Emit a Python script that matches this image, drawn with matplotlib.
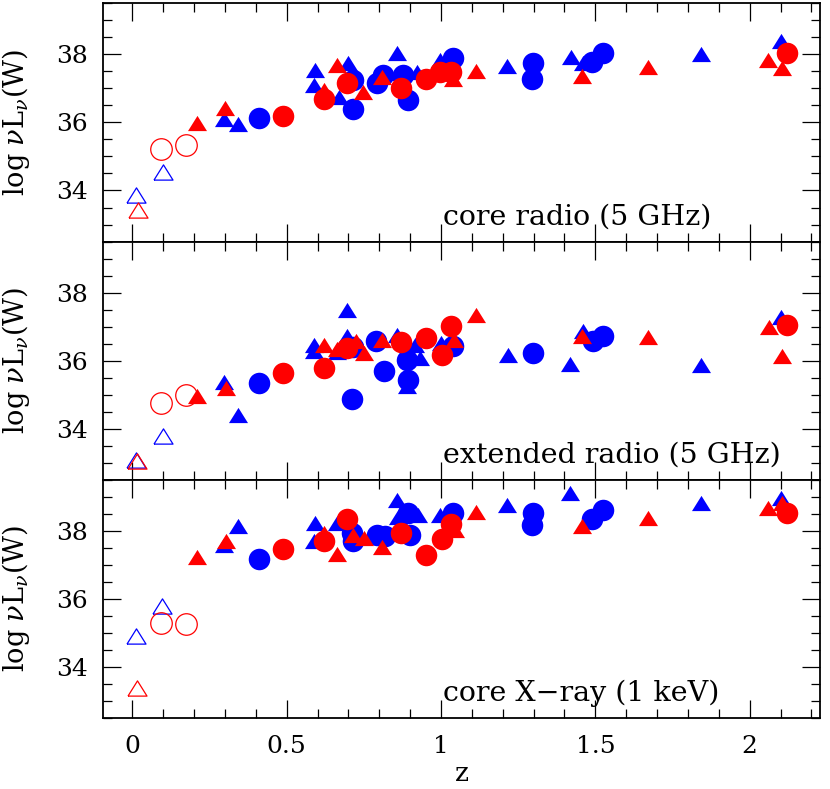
import matplotlib
matplotlib.use('Agg')
import matplotlib.pyplot as plt
from matplotlib.ticker import MultipleLocator

plt.rcParams['font.family'] = ['DejaVu Serif']
plt.rcParams['mathtext.fontset'] = 'dejavuserif'

# ---- data: (z, log nuL_nu) ----
# core radio (5 GHz)
core_blue_tri_z = [0.297, 0.342, 0.592, 0.589, 0.671, 0.700, 0.858, 0.865, 0.921, 0.997, 1.215, 1.42, 1.46, 1.842, 2.101]
core_blue_tri_y = [36.10, 35.94, 37.54, 37.10, 36.75, 37.74, 38.03, 37.45, 37.49, 37.83, 37.67, 37.91, 37.74, 38.00, 38.40]
core_blue_circ_z = [0.411, 0.716, 0.714, 0.792, 0.813, 0.878, 0.894, 1.04, 1.299, 1.294, 1.488, 1.524]
core_blue_circ_y = [36.12, 37.24, 36.38, 37.15, 37.39, 37.39, 36.66, 37.88, 37.76, 37.27, 37.78, 38.03]
core_red_tri_z = [0.21, 0.30, 0.621, 0.662, 0.748, 0.808, 1.04, 1.112, 1.458, 1.672, 2.061, 2.104]
core_red_tri_y = [35.97, 36.41, 36.95, 37.69, 36.90, 37.34, 37.29, 37.52, 37.37, 37.64, 37.83, 37.59]
core_red_circ_z = [0.489, 0.621, 0.694, 0.870, 0.951, 0.997, 1.031, 2.122]
core_red_circ_y = [36.20, 36.68, 37.16, 37.00, 37.29, 37.49, 37.49, 38.05]
core_open_blue_tri_z = [0.012, 0.098]
core_open_blue_tri_y = [33.86, 34.55]
core_open_red_tri_z = [0.017]
core_open_red_tri_y = [33.42]
core_open_red_circ_z = [0.094, 0.173]
core_open_red_circ_y = [35.23, 35.35]

# extended radio (5 GHz)
ext_blue_tri_z = [0.297, 0.343, 0.589, 0.589, 0.662, 0.694, 0.694, 0.858, 0.916, 0.932, 0.891, 1.0, 1.216, 1.418, 1.461, 1.842, 2.101]
ext_blue_tri_y = [35.37, 34.39, 36.47, 36.27, 36.24, 37.50, 36.71, 36.76, 36.47, 36.08, 35.25, 36.52, 36.18, 35.91, 36.86, 35.88, 37.28]
ext_blue_circ_z = [0.41, 0.713, 0.716, 0.789, 0.815, 0.889, 0.894, 1.04, 1.299, 1.491, 1.526]
ext_blue_circ_y = [35.34, 34.87, 36.40, 36.57, 35.69, 36.03, 35.44, 36.42, 36.23, 36.57, 36.72]
ext_red_tri_z = [0.211, 0.303, 0.621, 0.662, 0.725, 0.752, 0.808, 1.042, 1.112, 1.458, 1.672, 2.063, 2.104]
ext_red_tri_y = [34.95, 35.20, 36.47, 36.35, 36.57, 36.23, 36.62, 36.62, 37.33, 36.73, 36.70, 36.99, 36.13]
ext_red_circ_z = [0.489, 0.621, 0.694, 0.870, 0.951, 1.002, 1.031, 2.122]
ext_red_circ_y = [35.65, 35.79, 36.37, 36.54, 36.67, 36.18, 37.01, 37.06]
ext_open_blue_tri_z = [0.012, 0.098]
ext_open_blue_tri_y = [33.07, 33.79]
ext_open_red_tri_z = [0.016]
ext_open_red_tri_y = [33.04]
ext_open_red_circ_z = [0.094, 0.173]
ext_open_red_circ_y = [34.77, 34.98]

# core X-ray (1 keV)
xray_blue_tri_z = [0.297, 0.342, 0.592, 0.589, 0.662, 0.858, 0.862, 0.927, 0.997, 1.215, 1.418, 1.842, 2.101]
xray_blue_tri_y = [37.59, 38.13, 38.23, 37.69, 38.23, 38.91, 38.42, 38.47, 38.47, 38.76, 39.11, 38.81, 38.96]
xray_blue_circ_z = [0.41, 0.711, 0.716, 0.792, 0.819, 0.894, 0.90, 1.04, 1.299, 1.294, 1.488, 1.524]
xray_blue_circ_y = [37.17, 37.93, 37.69, 37.89, 37.84, 38.52, 37.89, 38.52, 38.52, 38.16, 38.34, 38.62]
xray_red_tri_z = [0.211, 0.302, 0.621, 0.662, 0.716, 0.752, 0.808, 1.045, 1.112, 1.458, 1.672, 2.061, 2.104]
xray_red_tri_y = [37.23, 37.71, 37.93, 37.31, 37.89, 37.79, 37.52, 38.03, 38.55, 38.13, 38.37, 38.67, 38.81]
xray_red_circ_z = [0.489, 0.621, 0.694, 0.870, 0.951, 1.002, 1.031, 2.122]
xray_red_circ_y = [37.46, 37.69, 38.34, 37.93, 37.29, 37.76, 38.20, 38.52]
xray_open_blue_tri_z = [0.012, 0.097]
xray_open_blue_tri_y = [34.91, 35.79]
xray_open_red_tri_z = [0.016]
xray_open_red_tri_y = [33.37]
xray_open_red_circ_z = [0.094, 0.173]
xray_open_red_circ_y = [35.28, 35.26]

panel_labels = ['core radio (5 GHz)', 'extended radio (5 GHz)', 'core X\u2212ray (1 keV)']

panels = [
    (core_blue_tri_z, core_blue_tri_y, core_blue_circ_z, core_blue_circ_y,
     core_red_tri_z, core_red_tri_y, core_red_circ_z, core_red_circ_y,
     core_open_blue_tri_z, core_open_blue_tri_y, core_open_red_tri_z, core_open_red_tri_y,
     core_open_red_circ_z, core_open_red_circ_y),
    (ext_blue_tri_z, ext_blue_tri_y, ext_blue_circ_z, ext_blue_circ_y,
     ext_red_tri_z, ext_red_tri_y, ext_red_circ_z, ext_red_circ_y,
     ext_open_blue_tri_z, ext_open_blue_tri_y, ext_open_red_tri_z, ext_open_red_tri_y,
     ext_open_red_circ_z, ext_open_red_circ_y),
    (xray_blue_tri_z, xray_blue_tri_y, xray_blue_circ_z, xray_blue_circ_y,
     xray_red_tri_z, xray_red_tri_y, xray_red_circ_z, xray_red_circ_y,
     xray_open_blue_tri_z, xray_open_blue_tri_y, xray_open_red_tri_z, xray_open_red_tri_y,
     xray_open_red_circ_z, xray_open_red_circ_y),
]

# flattened triangle marker (wider than tall)
tri = [(-1, -0.8), (1, -0.8), (0, 0.8), (-1, -0.8)]
BLUE = '#0000ff'
RED = '#ff0000'
tri_ms = 13.7
circ_ms = 15.5

fig, axes = plt.subplots(3, 1, figsize=(8.3, 7.89), dpi=100, sharex=True)
plt.subplots_adjust(left=0.1245, right=0.988, top=0.9958, bottom=0.090, hspace=0)

for ax, data, lab in zip(axes, panels, panel_labels):
    (btz, bty, bcz, bcy, rtz, rty, rcz, rcy,
     obtz, obty, ortz, orty, orcz, orcy) = data
    ax.plot(obtz, obty, ls='none', marker=tri, ms=tri_ms, mfc='none', mec=BLUE, mew=0.9)
    ax.plot(ortz, orty, ls='none', marker=tri, ms=tri_ms, mfc='none', mec=RED, mew=0.9)
    ax.plot(orcz, orcy, ls='none', marker='o', ms=circ_ms, mfc='none', mec=RED, mew=0.9)
    ax.plot(btz, bty, ls='none', marker=tri, ms=tri_ms, color=BLUE, mec='none')
    ax.plot(bcz, bcy, ls='none', marker='o', ms=circ_ms, color=BLUE, mec='none')
    ax.plot(rtz, rty, ls='none', marker=tri, ms=tri_ms, color=RED, mec='none')
    ax.plot(rcz, rcy, ls='none', marker='o', ms=circ_ms, color=RED, mec='none')

    ax.set_xlim(-0.094, 2.228)
    ax.set_ylim(32.5, 39.5)
    ax.xaxis.set_major_locator(MultipleLocator(0.5))
    ax.xaxis.set_minor_locator(MultipleLocator(0.1))
    ax.set_yticks([34, 36, 38])
    ax.yaxis.set_minor_locator(MultipleLocator(0.5))
    ax.tick_params(which='both', direction='in', top=True, right=True, width=0.9, labelsize=18)
    ax.tick_params(which='major', length=13)
    ax.tick_params(which='minor', length=6.5)
    ax.tick_params(axis='y', pad=11)
    ax.tick_params(axis='x', pad=12)
    for s in ax.spines.values():
        s.set_linewidth(1.3)
    ax.set_ylabel(r'log $\nu$L$_\nu$(W)', fontsize=19.5)
    ax.yaxis.set_label_coords(-0.0995, 0.5)
    ax.text(1.005, 33.0, lab, fontsize=20.5, ha='left', va='baseline')

axes[2].set_xticks([0, 0.5, 1, 1.5, 2])
axes[2].set_xticklabels(['0', '0.5', '1', '1.5', '2'])
axes[2].set_xlabel('z', fontsize=19, va='center')
axes[2].xaxis.set_label_coords(0.5, -0.231)

plt.savefig('out.png', dpi=100)
